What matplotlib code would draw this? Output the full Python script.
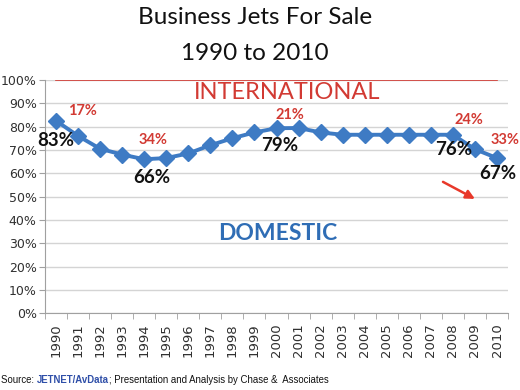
import matplotlib.pyplot as plt
import numpy as np
from matplotlib.ticker import FuncFormatter

years = [str(y) for y in range(1990, 2011)]
domestic = [82.5, 76, 70.5, 68, 66, 66.5, 68.5, 72, 75, 77.5,
            79.3, 79.4, 77.5, 76.5, 76.5, 76.5, 76.5, 76.5, 76.5, 70.3, 66.5]
international_line = [100] * len(years)

black_labels = [(0, "83%"), (4, "66%"), (10, "79%"), (18, "76%"), (20, "67%")]
red_labels = [(0, "17%"), (4, "34%"), (10, "21%"), (18, "24%"), (20, "33%")]

BLUE = "#3e7bc4"
RED = "#d23a33"
GRID = "#d4d4d4"

fig = plt.figure(figsize=(5.2, 3.9), dpi=100)
ax = fig.add_axes([0.0865, 0.197, 0.8905, 0.598])

x = np.arange(len(years))
ax.plot(x, domestic, color=BLUE, lw=2.8, marker="D", ms=8, zorder=4)
ax.plot(x, international_line, color=RED, lw=1.2, zorder=3)

ax.set_xlim(-0.5, len(years) - 0.5)
ax.set_ylim(0, 100)
ax.set_yticks(np.arange(0, 101, 10))
ax.yaxis.set_major_formatter(FuncFormatter(lambda v, _: f"{v:.0f}%"))
ax.set_xticks(x)
ax.set_xticklabels(years, rotation=90)
ax.set_xticks(np.arange(-0.5, len(years)), minor=True)
ax.tick_params(axis="x", which="major", length=0, pad=7, labelsize=9.5, labelcolor="#303030")
ax.tick_params(axis="x", which="minor", length=4, color="#a0a0a0")
ax.tick_params(axis="y", length=4, color="#a0a0a0", labelsize=9, labelcolor="#303030", pad=2)
ax.grid(axis="y", color=GRID, lw=1)
ax.set_axisbelow(True)
for s in ("top", "right"):
    ax.spines[s].set_visible(False)
for s in ("left", "bottom"):
    ax.spines[s].set_color("#a0a0a0")

font = ["Lato", "DejaVu Sans"]

# label offsets from each point (x in categories, y absolute %)
black_pos = {0: (0.0, 74.2), 4: (0.35, 58), 10: (0.15, 72.1), 18: (0.05, 70), 20: (0.05, 60)}
red_pos = {0: (1.2, 86.7), 4: (0.4, 74.2), 10: (0.6, 85), 18: (0.73, 82.8), 20: (0.36, 74.2)}
for i, t in black_labels:
    px, py = black_pos[i]
    ax.text(i + px, py, t, ha="center", va="center", fontsize=13.5, fontweight="bold",
            color="#111111", family=font, zorder=5)
for i, t in red_labels:
    px, py = red_pos[i]
    ax.text(i + px, py, t, ha="center", va="center", fontsize=10.5, fontweight="bold",
            color=RED, family=font, zorder=5)

ax.annotate("", xy=(19.0, 49.0), xytext=(17.55, 56.3),
            arrowprops=dict(arrowstyle="-|>", color="#e8382a", lw=1.8,
                            mutation_scale=13, shrinkA=0, shrinkB=0))

ax.text(10.5, 94.8, "INTERNATIONAL", ha="center", va="center", fontsize=17,
        color=RED, family=font)
ax.text(10.07, 34.3, "DOMESTIC", ha="center", va="center", fontsize=16.5,
        fontweight="bold", color="#2f6db5", family=font)

fig.text(0.49, 0.955, "Business Jets For Sale", ha="center", va="center",
         fontsize=17.5, family=font, color="#111111")
fig.text(0.49, 0.862, "1990 to 2010", ha="center", va="center",
         fontsize=17.5, family=font, color="#111111")

# source line
src_font = ["Liberation Sans", "DejaVu Sans"]
t1 = fig.text(0.002, 0.018, "Source: ", fontsize=6.9, family=src_font, color="#111111")
fig.canvas.draw()
r = fig.canvas.get_renderer()
bb = t1.get_window_extent(r)
t2 = fig.text(bb.x1 / fig.bbox.width, 0.018, "JETNET/AvData", fontsize=6.9,
              family=src_font, color="#2f4fa8", fontweight="bold")
bb2 = t2.get_window_extent(r)
fig.text(bb2.x1 / fig.bbox.width, 0.018, "; Presentation and Analysis by Chase &  Associates",
         fontsize=6.9, family=src_font, color="#111111")

fig.savefig("out.png", dpi=100)
